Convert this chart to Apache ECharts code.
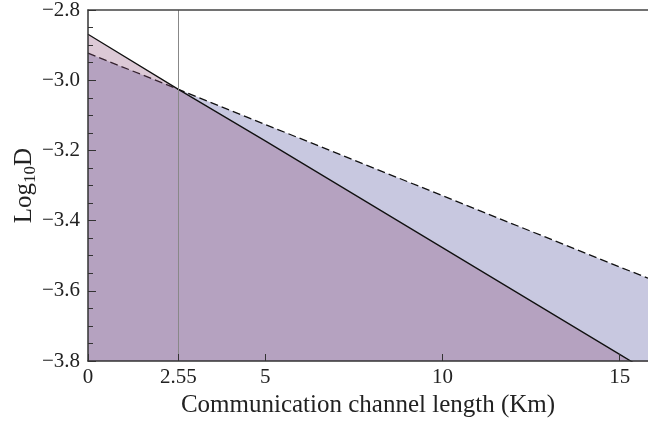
<!DOCTYPE html>
<html>
<head>
<meta charset="utf-8">
<script src="https://cdn.jsdelivr.net/npm/echarts@6/dist/echarts.min.js"></script>
<style>
  html, body { margin: 0; padding: 0; background: #fff; }
</style>
</head>
<body>
<div id="main" style="width:648px;height:422px"></div>
<script>
// channel length (km)
const lengths = [0, 2.55, 5, 10, 15, 15.8]
// log10 D, solid curve
const solidVals = [-2.869, -3.026, -3.173, -3.477, -3.781, -3.830]
// log10 D, dashed curve
const dashedVals = [-2.923, -3.026, -3.126, -3.329, -3.532, -3.564]
const xTickValues = [0, 2.55, 5, 10, 15]
const crossing = 2.55

const font = 'Liberation Serif'

function pairs(xs, ys) {
  return xs.map((x, i) => [x, ys[i]])
}

const myChart = echarts.init(document.getElementById('main'), null, { renderer: 'canvas' })

const option = {
  animation: false,
  grid: { left: 88, right: 0, top: 10, bottom: 61, outerBoundsMode: 'none', containLabel: false },
  xAxis: [{
    type: 'value',
    min: 0,
    max: 15.8,
    z: 10,
    name: 'Communication channel length (Km)',
    nameLocation: 'middle',
    nameGap: 32,
    nameTextStyle: { fontFamily: font, fontSize: 25, color: '#222' },
    axisLine: { lineStyle: { color: '#333', width: 1.5 } },
    axisTick: { inside: true, length: 7, customValues: xTickValues, lineStyle: { color: '#333' } },
    axisLabel: {
      customValues: xTickValues,
      fontFamily: font, fontSize: 21, color: '#222', margin: 6,
      formatter: v => String(v)
    },
    splitLine: { show: false }
  }, {
    type: 'value',
    position: 'top',
    min: 0,
    max: 15.8,
    z: 10,
    axisLine: { show: true, lineStyle: { color: '#444', width: 1.5 } },
    axisTick: { show: false },
    axisLabel: { show: false },
    splitLine: { show: false }
  }],
  yAxis: {
    type: 'value',
    min: -3.8,
    max: -2.8,
    interval: 0.2,
    z: 10,
    name: '{a|Log}{b|10}{a|D}',
    nameLocation: 'middle',
    nameGap: 49,
    nameMoveOverlap: false,
    nameRotate: 90,
    nameTextStyle: {
      rich: {
        a: { fontFamily: font, fontSize: 25, color: '#222' },
        b: { fontFamily: font, fontSize: 17, color: '#222', padding: [12, 0, 0, 0] }
      }
    },
    axisLine: { show: true, lineStyle: { color: '#333', width: 1.5 } },
    axisTick: { show: true, inside: true, length: 8, lineStyle: { color: '#333' } },
    minorTick: { show: true, splitNumber: 4, length: 5, lineStyle: { color: '#333' } },
    axisLabel: {
      fontFamily: font, fontSize: 21, color: '#222', margin: 8,
      formatter: v => '\u2212' + Math.abs(v).toFixed(1)
    },
    splitLine: { show: false }
  },
  series: [{
    type: 'line',
    name: 'dashed',
    data: pairs(lengths, dashedVals),
    symbol: 'none',
    z: 2,
    lineStyle: { color: '#111', width: 1.3, type: [8, 4] },
    areaStyle: { color: '#c8c8e0', opacity: 1, origin: 'start' },
    markLine: {
      silent: true,
      symbol: 'none',
      label: { show: false },
      lineStyle: { color: '#888', width: 1, type: 'solid' },
      data: [{ xAxis: crossing }]
    }
  }, {
    type: 'line',
    name: 'solid',
    data: pairs(lengths, solidVals),
    symbol: 'none',
    z: 3,
    lineStyle: { color: '#111', width: 1.3 },
    areaStyle: { color: 'rgb(138,75,118)', opacity: 0.3, origin: 'start' }
  }]
}

myChart.setOption(option)
</script>
</body>
</html>
